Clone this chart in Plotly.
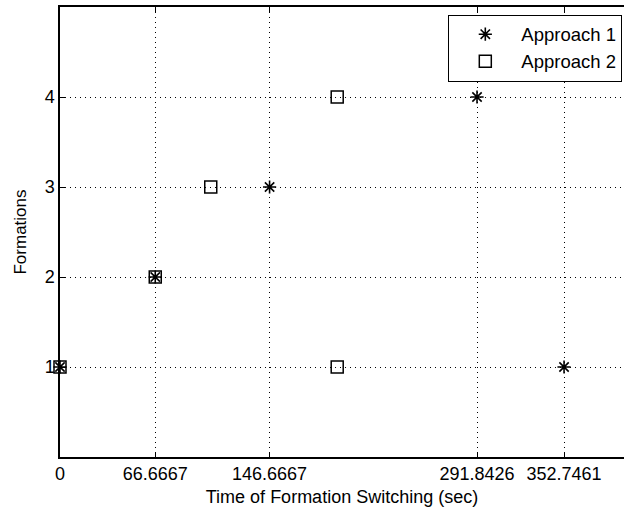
import plotly.graph_objects as go

# Data
a1_time = [0, 66.6667, 146.6667, 291.8426, 352.7461]
a1_form = [1, 2, 3, 4, 1]
a2_time = [0, 66.6667, 105.5, 194.0, 194.0]
a2_form = [1, 2, 3, 4, 1]
x_ticks = [0, 66.6667, 146.6667, 291.8426, 352.7461]
x_tick_labels = ["0", "66.6667", "146.6667", "291.8426", "352.7461"]
y_ticks = [1, 2, 3, 4]

FONT = "Liberation Sans, Arial, sans-serif"

fig = go.Figure()
fig.add_trace(go.Scatter(
    x=a1_time, y=a1_form, mode="markers", name="Approach 1", cliponaxis=False,
    marker=dict(symbol="asterisk-open", size=11, color="black",
                line=dict(color="black", width=1.6)),
))
fig.add_trace(go.Scatter(
    x=a2_time, y=a2_form, mode="markers", name="Approach 2", cliponaxis=False,
    marker=dict(symbol="square-open", size=12, color="black",
                line=dict(color="black", width=1.5)),
))

fig.update_layout(
    width=624, height=515,
    margin=dict(l=60, r=0, t=7, b=58),
    paper_bgcolor="white", plot_bgcolor="white",
    font=dict(family=FONT, size=17, color="black"),
    showlegend=True,
    legend=dict(
        x=0.997, y=0.983, xanchor="right", yanchor="top",
        bgcolor="white", bordercolor="black", borderwidth=1,
        font=dict(family=FONT, size=18.5, color="black"),
        itemwidth=62, tracegroupgap=0,
    ),
)
fig.update_xaxes(
    range=[0, 394.7], tickmode="array", tickvals=x_ticks, ticktext=x_tick_labels,
    showline=True, linecolor="black", linewidth=1.5, mirror="ticks",
    ticks="inside", ticklen=5, tickcolor="black",
    showgrid=True, gridcolor="black", griddash="1px,4px", gridwidth=1.3,
    zeroline=False,
    tickfont=dict(family=FONT, size=18),
    title=dict(text="Time of Formation Switching (sec)", font=dict(family=FONT, size=18), standoff=7),
)
fig.update_yaxes(
    range=[0, 5], tickmode="array", tickvals=y_ticks,
    showline=True, linecolor="black", linewidth=1.5, mirror=False,
    ticks="inside", ticklen=5, tickcolor="black",
    showgrid=True, gridcolor="black", griddash="1px,4px", gridwidth=1.3,
    zeroline=False,
    tickfont=dict(family=FONT, size=18),
    title=dict(text="Formations", font=dict(family=FONT, size=17), standoff=14),
)

fig.write_html("out.html")
